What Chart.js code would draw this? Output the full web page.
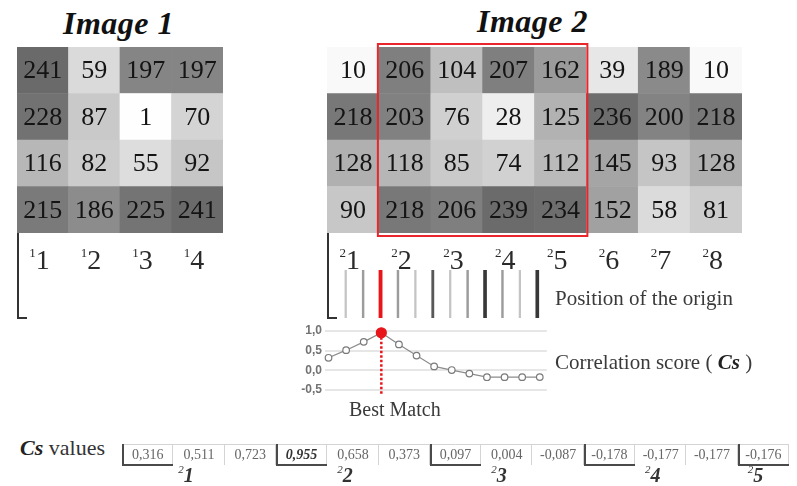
<!DOCTYPE html>
<html>
<head>
<meta charset="utf-8">
<script src="https://cdn.jsdelivr.net/npm/chart.js@4.4.1/dist/chart.umd.min.js"></script>
<style>
  html, body { margin: 0; padding: 0; background: #fff; }
  #page { position: relative; width: 797px; height: 486px; overflow: hidden; background: #fff;
          font-family: 'Liberation Serif', serif; color: #333; }
  #page canvas { position: absolute; }
  .t { position: absolute; white-space: nowrap; }
  .title { font-weight: bold; font-style: italic; font-size: 32px; line-height: 32px; color: #111; letter-spacing: 0.5px; }
  .cap { font-size: 21px; line-height: 21px; color: #3a3a3a; }
  .cs { font-weight: bold; font-style: italic; color: #222; }
</style>
</head>
<body>
<div id="page">
  <div class="t title" style="left:63px;top:7px;">Image 1</div>
  <div class="t title" style="left:477px;top:5px;">Image 2</div>

  <canvas id="heat1" width="226" height="290" style="left:7px;top:37px;"></canvas>
  <canvas id="heat2" width="435" height="290" style="left:317px;top:37px;"></canvas>
  <canvas id="origins" width="209" height="48" style="left:337px;top:270px;"></canvas>
  <canvas id="scores" width="262" height="82" style="left:290px;top:318px;"></canvas>
  <canvas id="table" width="685" height="50" style="left:112px;top:436px;"></canvas>

  <div class="t cap" style="left:555px;top:288px;">Position of the origin</div>
  <div class="t cap" style="left:555px;top:352px;">Correlation score (&nbsp;<span class="cs">Cs</span>&nbsp;)</div>
  <div class="t cap" style="left:349px;top:399px;font-size:20px;line-height:20px;">Best Match</div>
  <div class="t cap" style="left:20px;top:437px;font-size:22px;line-height:22px;color:#333;"><span class="cs">Cs</span> values</div>
</div>

<script>
// ---- data ----
const image1Rows = [
  [241, 59, 197, 197],
  [228, 87, 1, 70],
  [116, 82, 55, 92],
  [215, 186, 225, 241]
];
const image2Rows = [
  [10, 206, 104, 207, 162, 39, 189, 10],
  [218, 203, 76, 28, 125, 236, 200, 218],
  [128, 118, 85, 74, 112, 145, 93, 128],
  [90, 218, 206, 239, 234, 152, 58, 81]
];
const windowColumns = [1, 4];           // first and last column of the framed window in Image 2
const originSlots = ['1', '2', '3', '4', '5', '6', '7', '8', '9', '10', '11', '12'];
const originLevels = [0, 1, 4, 1, 0, 2, 0, 1, 3, 1, 0, 3];   // 4 = best match
const csValues = [0.316, 0.511, 0.723, 0.955, 0.658, 0.373, 0.097, 0.004, -0.087, -0.178, -0.177, -0.177, -0.176];
const csTicks = [1.0, 0.5, 0.0, -0.5];
const tableGroupCells = [0, 3, 6, 9, 12];
const tableGroupLabels = ['1', '2', '3', '4', '5'];
const tableGroupPositions = [0.8, 3.9, 6.9, 9.9, 11.9];

const SERIF = "'Liberation Serif', serif";
const bestIndex = csValues.indexOf(Math.max(...csValues));

function grayFor(v) {
  const g = Math.round(255 - v * 0.62);
  return `rgb(${g},${g},${g})`;
}

// numbers inside cells, superscript column labels, bracket and window frame
const heatPlugin = {
  id: 'heatLabels',
  afterDatasetsDraw(chart, args, opts) {
    const ctx = chart.ctx;
    const area = chart.chartArea;
    ctx.save();
    ctx.fillStyle = '#141414';
    ctx.font = `26px ${SERIF}`;
    ctx.textAlign = 'center';
    ctx.textBaseline = 'middle';
    chart.data.datasets.forEach((ds, di) => {
      chart.getDatasetMeta(di).data.forEach((bar, i) => {
        const c = bar.getCenterPoint();
        ctx.fillText(String(ds.cellValues[i]), c.x, c.y + 1);
      });
    });

    // frame around the compared window
    if (opts.window) {
      const meta = chart.getDatasetMeta(0);
      const a = meta.data[opts.window[0]], b = meta.data[opts.window[1]];
      ctx.strokeStyle = '#e8262c';
      ctx.lineWidth = 2;
      ctx.strokeRect(a.x - a.width / 2 - 1, area.top - 3, (b.x + b.width / 2) - (a.x - a.width / 2) + 2, area.bottom - area.top + 6);
    }

    // column labels
    const xs = chart.scales.x;
    ctx.textBaseline = 'alphabetic';
    ctx.fillStyle = '#2a2a2a';
    chart.data.labels.forEach((lab, i) => {
      const cx = xs.getPixelForValue(i);
      const by = area.bottom + 36;
      ctx.font = `28px ${SERIF}`;
      ctx.textAlign = 'center';
      const w = ctx.measureText(lab).width;
      ctx.fillText(lab, cx, by);
      ctx.font = `13px ${SERIF}`;
      ctx.textAlign = 'right';
      ctx.fillText(opts.imageNo, cx - w / 2, by - 12);
    });

    // bracket on the left
    ctx.strokeStyle = '#333';
    ctx.lineWidth = 2;
    ctx.beginPath();
    ctx.moveTo(area.left + 1, area.bottom);
    ctx.lineTo(area.left + 1, area.bottom + 85);
    ctx.lineTo(area.left + 10, area.bottom + 85);
    ctx.stroke();
    ctx.restore();
  }
};

function heatmapConfig(rows, imageNo, windowCols) {
  const labels = rows[0].map((_, i) => String(i + 1));
  const datasets = rows.slice().reverse().map(row => ({
    data: row.map(() => 1),
    cellValues: row,
    backgroundColor: row.map(grayFor),
    borderWidth: 0,
    categoryPercentage: 1,
    barPercentage: 1
  }));
  return {
    type: 'bar',
    data: { labels, datasets },
    options: {
      responsive: false, animation: false, events: [],
      layout: { padding: { left: 10, right: 10, top: 10, bottom: 94 } },
      plugins: {
        legend: { display: false }, tooltip: { enabled: false },
        heatLabels: { imageNo: String(imageNo), window: windowCols }
      },
      scales: {
        x: { stacked: true, display: false },
        y: { stacked: true, display: false, min: 0, max: rows.length }
      }
    },
    plugins: [heatPlugin]
  };
}

new Chart(document.getElementById('heat1'), heatmapConfig(image1Rows, 1, null));
new Chart(document.getElementById('heat2'), heatmapConfig(image2Rows, 2, windowColumns));

// ---- positions of the origin ----
const levelStyles = [
  { color: '#c4c4c4', w: 1.6 },
  { color: '#9c9c9c', w: 1.8 },
  { color: '#585858', w: 2.2 },
  { color: '#383838', w: 3 },
  { color: '#e8161b', w: 3.2 }
];
new Chart(document.getElementById('origins'), {
  type: 'bar',
  data: {
    labels: originSlots,
    datasets: levelStyles.map((st, l) => ({
      data: originLevels.map(v => (v === l ? 1 : null)),
      backgroundColor: st.color,
      barThickness: st.w,
      grouped: false,
      borderWidth: 0
    }))
  },
  options: {
    responsive: false, animation: false, events: [],
    plugins: { legend: { display: false }, tooltip: { enabled: false } },
    scales: { x: { display: false }, y: { display: false, min: 0, max: 1 } }
  }
});

// ---- correlation score curve ----
const bestLinePlugin = {
  id: 'bestLine',
  beforeDatasetsDraw(chart) {
    const pt = chart.getDatasetMeta(0).data[bestIndex];
    const ctx = chart.ctx;
    ctx.save();
    ctx.strokeStyle = '#e8161b';
    ctx.lineWidth = 2.5;
    ctx.setLineDash([2.5, 2]);
    ctx.beginPath();
    ctx.moveTo(pt.x, pt.y);
    ctx.lineTo(pt.x, chart.scales.y.getPixelForValue(-0.6));
    ctx.stroke();
    ctx.restore();
  }
};
new Chart(document.getElementById('scores'), {
  type: 'line',
  data: {
    datasets: [{
      data: csValues.map((v, i) => ({ x: i, y: v })),
      borderColor: '#8c8c8c',
      borderWidth: 1.2,
      tension: 0,
      clip: false,
      pointRadius: c => (c.dataIndex === bestIndex ? 5 : 3.3),
      pointBackgroundColor: c => (c.dataIndex === bestIndex ? '#e8161b' : '#ffffff'),
      pointBorderColor: c => (c.dataIndex === bestIndex ? '#e8161b' : '#7a7a7a'),
      pointBorderWidth: 1.2
    }]
  },
  options: {
    responsive: false, animation: false, events: [],
    layout: { padding: { top: 13, bottom: 10, right: 5, left: 0 } },
    plugins: { legend: { display: false }, tooltip: { enabled: false } },
    scales: {
      x: { type: 'linear', min: -0.2, max: 12.4, display: false },
      y: {
        min: -0.5, max: 1.0,
        afterBuildTicks: s => { s.ticks = csTicks.map(v => ({ value: v })); },
        afterFit: s => { s.width = 35; },
        ticks: {
          callback: v => Number(v).toFixed(1).replace('.', ','),
          font: { family: "'Liberation Sans', sans-serif", size: 12, weight: 'bold' },
          color: '#727272',
          padding: 3
        },
        grid: { color: '#e6e6e6', lineWidth: 2, drawTicks: false },
        border: { display: false }
      }
    }
  },
  plugins: [bestLinePlugin]
});

// ---- table of Cs values ----
const tablePlugin = {
  id: 'csTable',
  afterDatasetsDraw(chart) {
    const ctx = chart.ctx;
    const area = chart.chartArea;
    const meta = chart.getDatasetMeta(0);
    const xs = chart.scales.x;
    ctx.save();
    // top rule and cell dividers
    ctx.strokeStyle = '#d4d4d4';
    ctx.lineWidth = 1;
    ctx.beginPath();
    ctx.moveTo(area.left, area.top + 0.5);
    ctx.lineTo(area.right, area.top + 0.5);
    meta.data.forEach(bar => {
      const r = Math.round(bar.x + bar.width / 2) - 0.5;
      ctx.moveTo(r, area.top);
      ctx.lineTo(r, area.bottom);
    });
    ctx.stroke();
    // grouped cells: dark left and bottom edges
    ctx.strokeStyle = '#4a4a4a';
    ctx.lineWidth = 2;
    tableGroupCells.forEach(i => {
      const bar = meta.data[i];
      const l = Math.round(bar.x - bar.width / 2) + 1;
      const r = Math.round(bar.x + bar.width / 2);
      ctx.beginPath();
      ctx.moveTo(l, area.top);
      ctx.lineTo(l, area.bottom);
      ctx.lineTo(r, area.bottom);
      ctx.stroke();
    });
    // values
    ctx.textAlign = 'center';
    ctx.textBaseline = 'middle';
    meta.data.forEach((bar, i) => {
      const best = i === bestIndex;
      ctx.font = (best ? 'italic bold ' : '') + `14px ${SERIF}`;
      ctx.fillStyle = best ? '#333' : '#666';
      ctx.fillText(csValues[i].toFixed(3).replace('.', ','), bar.x, (area.top + area.bottom) / 2 + 1);
    });
    // group labels
    ctx.textBaseline = 'alphabetic';
    ctx.fillStyle = '#333';
    tableGroupLabels.forEach((lab, k) => {
      const cx = xs.getPixelForValue(tableGroupPositions[k]);
      const by = area.bottom + 17;
      ctx.font = `italic bold 20px ${SERIF}`;
      ctx.textAlign = 'center';
      const w = ctx.measureText(lab).width;
      ctx.fillText(lab, cx, by);
      ctx.font = `italic 11px ${SERIF}`;
      ctx.textAlign = 'right';
      ctx.fillText('2', cx - w / 2, by - 9);
    });
    ctx.restore();
  }
};
new Chart(document.getElementById('table'), {
  type: 'bar',
  data: {
    labels: csValues.map((_, i) => String(i + 1)),
    datasets: [{ data: csValues.map(() => 1), backgroundColor: 'rgba(0,0,0,0)', borderWidth: 0,
                 categoryPercentage: 1, barPercentage: 1 }]
  },
  options: {
    responsive: false, animation: false, events: [],
    layout: { padding: { left: 10, right: 8, top: 8, bottom: 21 } },
    plugins: { legend: { display: false }, tooltip: { enabled: false } },
    scales: { x: { display: false }, y: { display: false, min: 0, max: 1 } }
  },
  plugins: [tablePlugin]
});
</script>
</body>
</html>
